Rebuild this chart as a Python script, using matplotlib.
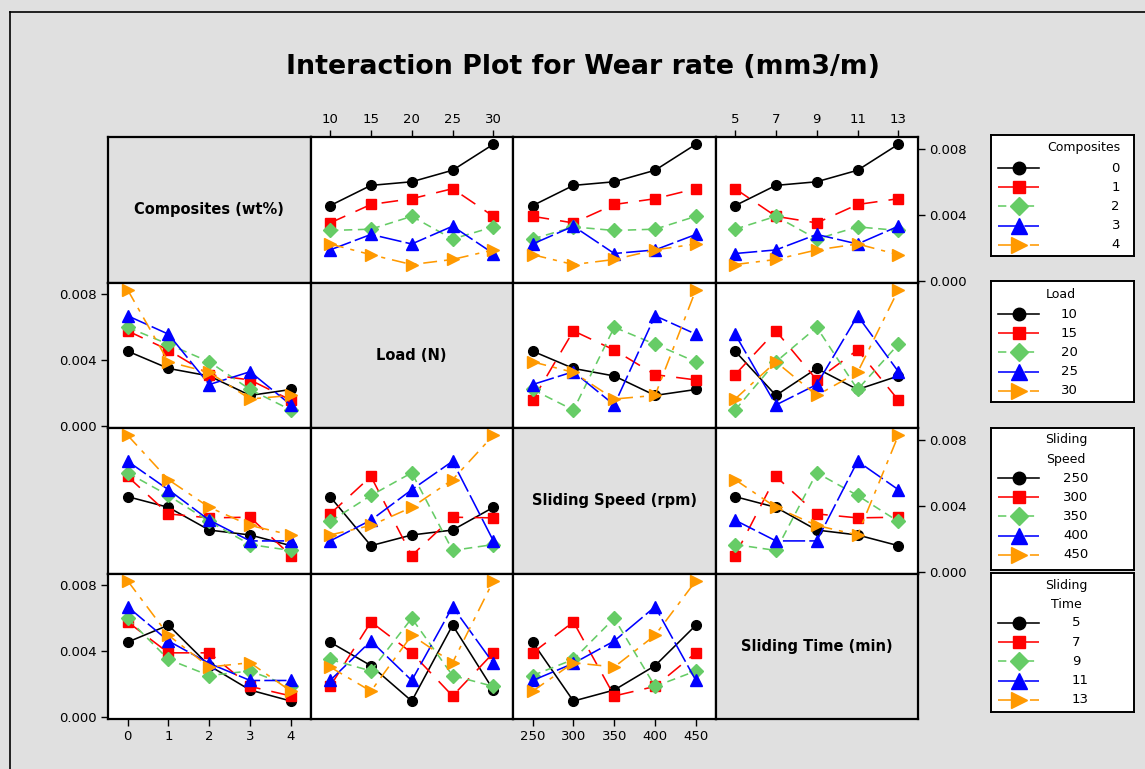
import numpy as np
import pandas as pd
import matplotlib
matplotlib.use("Agg")
import matplotlib.pyplot as plt
from matplotlib.lines import Line2D

plt.rcParams["font.family"] = ["DejaVu Sans"]
plt.rcParams["lines.scale_dashes"] = False

# ---------------- data ----------------
factors = ["Composites", "Load", "Sliding Speed", "Sliding Time"]
diag_labels = ["Composites (wt%)", "Load (N)", "Sliding Speed (rpm)", "Sliding Time (min)"]
legend_titles = ["Composites", "Load", "Sliding\nSpeed", "Sliding\nTime"]

composite_levels = [0, 1, 2, 3, 4]
load_levels = [10, 15, 20, 25, 30]
speed_levels = [250, 300, 350, 400, 450]
time_levels = [5, 7, 9, 11, 13]

# L25 runs
run_composites = [0, 0, 0, 0, 0, 1, 1, 1, 1, 1, 2, 2, 2, 2, 2, 3, 3, 3, 3, 3, 4, 4, 4, 4, 4]
run_load = [10, 15, 20, 25, 30, 10, 15, 20, 25, 30, 10, 15, 20, 25, 30,
            10, 15, 20, 25, 30, 10, 15, 20, 25, 30]
run_speed = [250, 300, 350, 400, 450, 300, 350, 400, 450, 250, 350, 400, 450, 250, 300,
             400, 450, 250, 300, 350, 450, 250, 300, 350, 400]
run_time = [5, 7, 9, 11, 13, 9, 11, 13, 5, 7, 13, 5, 7, 9, 11,
            7, 9, 11, 13, 5, 11, 13, 5, 7, 9]
wear_rate = [0.00455, 0.00578, 0.00600, 0.00670, 0.00828,
             0.00350, 0.00462, 0.00497, 0.00558, 0.00390,
             0.00304, 0.00312, 0.00390, 0.00252, 0.00326,
             0.00186, 0.00280, 0.00222, 0.00330, 0.00164,
             0.00222, 0.00157, 0.00097, 0.00128, 0.00186]

y_ticks = [0.0, 0.004, 0.008]
y_ticklabels = ["0.000", "0.004", "0.008"]

# ---------------- styles ----------------
BG = "#E0E0E0"
series_colors = ["#000000", "#FF0000", "#66CC66", "#0000FF", "#FF9900"]
series_markers = ["o", "s", "D", "^", ">"]
series_msize = [7, 6.5, 7, 9, 9]
series_dashes = [None, (12, 8), (6, 4), (16, 3), (10, 5, 3, 5)]

df = pd.DataFrame({"Composites": run_composites, "Load": run_load,
                   "Sliding Speed": run_speed, "Sliding Time": run_time,
                   "Wear": wear_rate})
levels = {"Composites": composite_levels, "Load": load_levels,
          "Sliding Speed": speed_levels, "Sliding Time": time_levels}

W, H = 1145, 769
fig = plt.figure(figsize=(W / 100, H / 100), dpi=100, facecolor=BG)


def px_axes(x0, y0, x1, y1, **kw):
    return fig.add_axes([x0 / W, 1 - y1 / H, (x1 - x0) / W, (y1 - y0) / H], **kw)


def styled_line(ax, x, y, k, **kw):
    ln, = ax.plot(x, y, color=series_colors[k], lw=1.15, marker=series_markers[k],
                  ms=series_msize[k], mfc=series_colors[k], mec=series_colors[k], **kw)
    if series_dashes[k] is not None:
        ln.set_dashes(series_dashes[k])
    return ln


# figure frame
fig.add_artist(Line2D([10 / W, 10 / W], [1 - 12 / H, 0], color="black", lw=1.2,
                      transform=fig.transFigure))
fig.add_artist(Line2D([10 / W, 1.0], [1 - 12 / H, 1 - 12 / H], color="black", lw=1.2,
                      transform=fig.transFigure))

fig.text(583 / W, 1 - 67 / H, "Interaction Plot for Wear rate (mm3/m)",
         ha="center", va="center", fontsize=19.3, fontweight="bold")

col_edges = [108, 310.5, 513, 715.5, 918]
row_edges = [137, 282.5, 428, 573.5, 719]
TICKFS = 9.5

for r in range(4):
    for c in range(4):
        ax = px_axes(col_edges[c], row_edges[r], col_edges[c + 1], row_edges[r + 1])
        for sp in ax.spines.values():
            sp.set_linewidth(1.6)
            sp.set_color("black")
        ax.set_xlim(-0.48, 4.48)
        ax.set_ylim(-0.00012, 0.00872)
        ax.tick_params(which="both", bottom=False, top=False, left=False, right=False,
                       labelbottom=False, labeltop=False, labelleft=False, labelright=False,
                       direction="out", length=5, width=1, labelsize=TICKFS, pad=3)
        ax.set_xticks(range(5))
        ax.set_yticks(y_ticks)
        if r == c:
            ax.set_facecolor(BG)
            ax.text(0.5, 0.5, diag_labels[r], transform=ax.transAxes, ha="center",
                    va="center", fontsize=10.5, fontweight="bold")
            continue
        ax.set_facecolor("white")
        fr, fc = factors[r], factors[c]
        means = df.groupby([fr, fc])["Wear"].mean()
        for k, lev in enumerate(levels[fr]):
            yv = [means[(lev, xl)] for xl in levels[fc]]
            styled_line(ax, range(5), yv, k)
        ax.set_xticklabels([str(v) for v in levels[fc]])
        ax.set_yticklabels(y_ticklabels)
        if r == 0 and c in (1, 3):
            ax.tick_params(top=True, labeltop=True)
        if r == 3 and c in (0, 2):
            ax.tick_params(bottom=True, labelbottom=True)
        if c == 3 and r in (0, 2):
            ax.tick_params(right=True, labelright=True)
        if c == 0 and r in (1, 3):
            ax.tick_params(left=True, labelleft=True)

# ---------------- legends ----------------
legend_boxes = [(991, 135, 1134, 256), (991, 281, 1134, 402),
                (991, 428, 1134, 570), (991, 573, 1134, 712)]
legend_title_y = [[13], [13], [12, 32], [13, 32]]
legend_title_x = [129, 70, 75, 75]
legend_title_ha = ["right", "center", "center", "center"]
legend_item_y0 = [33, 33, 50, 50]
legend_item_dy = 19.2
legend_label_x = [129, 70, 72, 81]
legend_label_ha = ["right", "left", "left", "left"]

for li in range(4):
    x0, y0, x1, y1 = legend_boxes[li]
    lax = px_axes(x0, y0, x1, y1)
    lax.set_facecolor("white")
    lax.set_xlim(0, x1 - x0)
    lax.set_ylim(y1 - y0, 0)
    lax.set_xticks([])
    lax.set_yticks([])
    for sp in lax.spines.values():
        sp.set_linewidth(1.4)
    for t, ty in zip(legend_titles[li].split("\n"), legend_title_y[li]):
        lax.text(legend_title_x[li], ty, t, ha=legend_title_ha[li], va="center", fontsize=9)
    fac = factors[li]
    for k, lev in enumerate(levels[fac]):
        yy = legend_item_y0[li] + k * legend_item_dy
        ln, = lax.plot([6.5, 48], [yy, yy], color=series_colors[k], lw=1.15)
        if series_dashes[k] is not None:
            ln.set_dashes(series_dashes[k])
        lax.plot([28], [yy], marker=series_markers[k], ms=series_msize[k] + 2,
                 color=series_colors[k], ls="none")
        lax.text(legend_label_x[li], yy, str(lev), ha=legend_label_ha[li],
                 va="center", fontsize=9.5)

fig.savefig("out.png", dpi=100, facecolor=BG)
